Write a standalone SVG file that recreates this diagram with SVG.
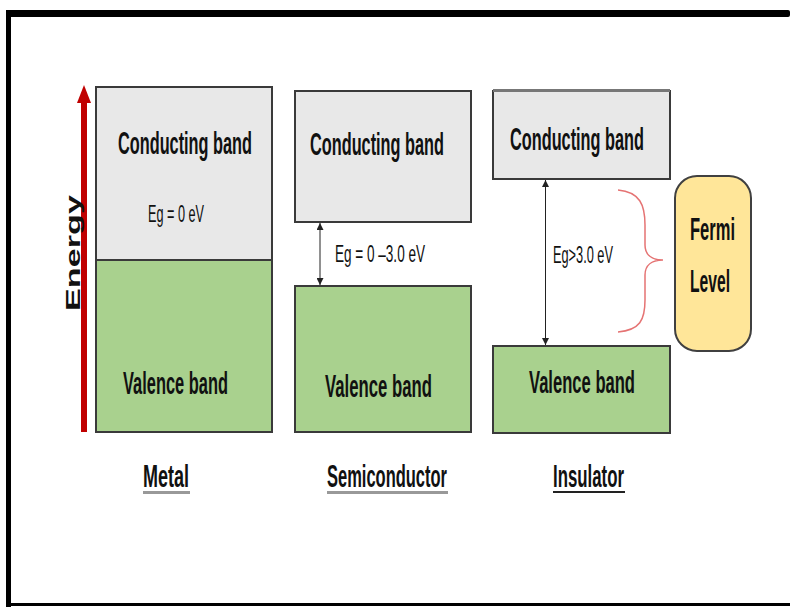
<svg xmlns="http://www.w3.org/2000/svg" width="790" height="607" viewBox="0 0 790 607">
<defs>
<style>
.t{font-family:"Liberation Sans",Arial,sans-serif;font-weight:bold;fill:#111;font-size:16.5px;}
.e{font-family:"Liberation Sans",Arial,sans-serif;font-weight:normal;fill:#111;font-size:13px;}
.cb{fill:#e8e8e8;stroke:#3a3a3a;stroke-width:2;}
.vb{fill:#a9d18e;stroke:#3a3a3a;stroke-width:2;}
.gap{stroke:#222;stroke-width:1;fill:none;marker-start:url(#ah);marker-end:url(#ah);}
</style>
<marker id="ah" viewBox="0 0 10 10" refX="10" refY="5" markerWidth="7" markerHeight="7" orient="auto-start-reverse" markerUnits="userSpaceOnUse">
<path d="M0,0 L10,5 L0,10 z" fill="#222"/>
</marker>
</defs>
<rect width="790" height="607" fill="#fff"/>
<g id="frame">
<rect x="6" y="10" width="784" height="7" rx="2" fill="#000"/>
<rect x="6" y="10" width="5" height="597" fill="#000"/>
<rect x="6" y="603" width="784" height="3" fill="#000"/>
</g>
<g id="energy-axis">
<rect x="81" y="100" width="6" height="332" fill="#c00000"/>
<path d="M77,103 L84,85 L91,103 z" fill="#c00000"/>
<text transform="translate(80,311) rotate(-90)" style="font-family:'Liberation Sans',Arial,sans-serif;font-weight:bold;font-size:20px;fill:#111" textLength="116" lengthAdjust="spacingAndGlyphs">Energy</text>
</g>
<g id="metal">
<rect class="cb" x="96" y="87" width="176" height="173"/>
<rect class="vb" x="96" y="260" width="176" height="172"/>
<text class="t" transform="translate(118,154) scale(1,1.88)" textLength="134" lengthAdjust="spacingAndGlyphs">Conducting band</text>
<text class="e" transform="translate(148,222) scale(1,1.77)" textLength="56" lengthAdjust="spacingAndGlyphs">Eg = 0 eV</text>
<text class="t" transform="translate(123,394) scale(1,1.88)" textLength="105" lengthAdjust="spacingAndGlyphs">Valence band</text>
<text class="t" transform="translate(143,487) scale(1,1.88)" textLength="46" lengthAdjust="spacingAndGlyphs">Metal</text>
<rect x="143" y="491" width="47" height="3" fill="#999"/>
</g>
<g id="semiconductor">
<rect class="cb" x="295" y="91" width="176" height="131"/>
<rect class="vb" x="295" y="286" width="176" height="146"/>
<text class="t" transform="translate(310,155) scale(1,1.88)" textLength="134" lengthAdjust="spacingAndGlyphs">Conducting band</text>
<text class="e" transform="translate(335,262) scale(1,1.77)" textLength="90" lengthAdjust="spacingAndGlyphs">Eg = 0 –3.0 eV</text>
<text class="t" transform="translate(325,397) scale(1,1.88)" textLength="107" lengthAdjust="spacingAndGlyphs">Valence band</text>
<text class="t" transform="translate(327,487) scale(1,1.88)" textLength="120" lengthAdjust="spacingAndGlyphs">Semiconductor</text>
<rect x="327" y="491" width="121" height="3" fill="#999"/>
</g>
<g id="insulator">
<rect class="cb" x="493" y="91" width="177" height="88"/>
<rect x="493" y="89" width="177" height="3" fill="#777"/>
<rect class="vb" x="493" y="346" width="177" height="87"/>
<text class="t" transform="translate(510,150) scale(1,1.88)" textLength="134" lengthAdjust="spacingAndGlyphs">Conducting band</text>
<text class="e" transform="translate(553,263) scale(1,1.77)" textLength="60" lengthAdjust="spacingAndGlyphs">Eg&gt;3.0 eV</text>
<text class="t" transform="translate(529,393) scale(1,1.88)" textLength="106" lengthAdjust="spacingAndGlyphs">Valence band</text>
<text class="t" transform="translate(553,487) scale(1,1.88)" textLength="71" lengthAdjust="spacingAndGlyphs">Insulator</text>
<rect x="553" y="491" width="72" height="2" fill="#222"/>
</g>
<g id="fermi-level">
<rect x="675" y="176" width="76" height="175" rx="22" fill="#ffe699" stroke="#404040" stroke-width="2"/>
<text class="t" transform="translate(690,240) scale(1,1.88)" textLength="45" lengthAdjust="spacingAndGlyphs">Fermi</text>
<text class="t" transform="translate(690,292) scale(1,1.88)" textLength="40" lengthAdjust="spacingAndGlyphs">Level</text>
</g>
<g id="connectors">
<line class="gap" x1="320" y1="223" x2="320" y2="285"/>
<line class="gap" x1="545.5" y1="180" x2="545.5" y2="345"/>
<path d="M618,190 C640,192 645,205 645,225 L645,245 C645,255 652,260 663,260 C652,260 645,265 645,275 L645,300 C645,320 640,330 618,332" fill="none" stroke="#e57373" stroke-width="1.5"/>
</g>
</svg>
